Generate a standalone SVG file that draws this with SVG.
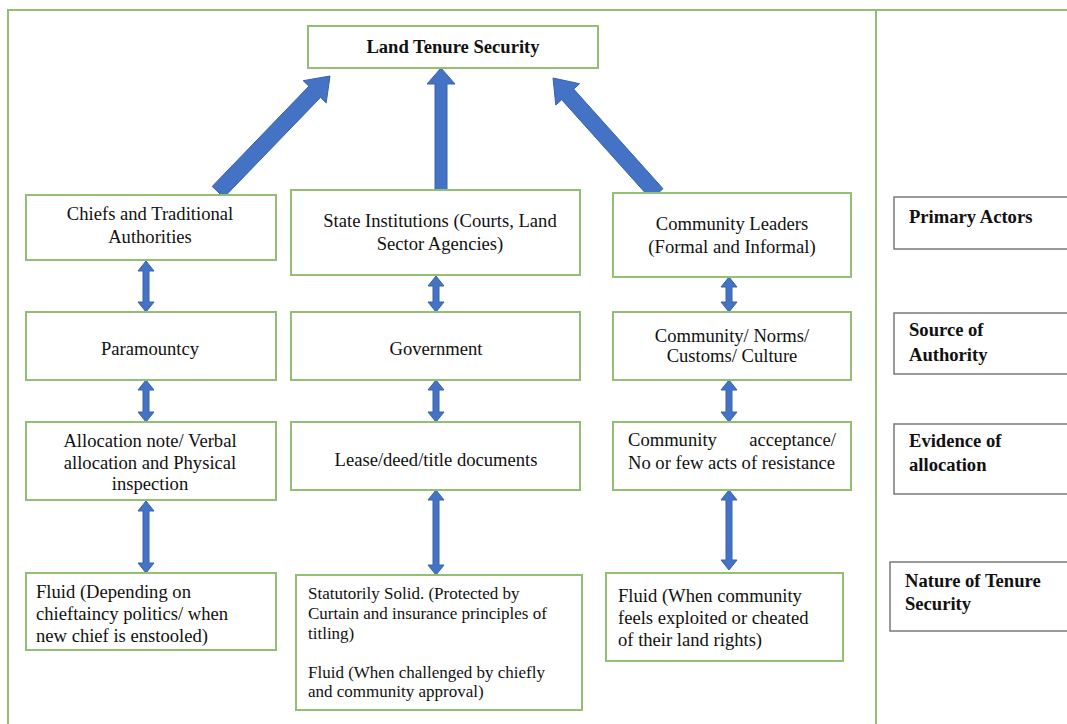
<svg xmlns="http://www.w3.org/2000/svg" width="1067" height="724" viewBox="0 0 1067 724">
<style>
.frame{fill:none;stroke:#93BF72;stroke-width:2}
.box{fill:#fff;stroke:#93BF72;stroke-width:2}
.leg{fill:#fff;stroke:#7a7a7a;stroke-width:1.5}
.arr{fill:#4472C4;stroke:#3A62A8;stroke-width:1}
text{font-family:"Liberation Serif","Times New Roman",serif;font-size:18.6px;fill:#111}
.c{text-anchor:middle}
.b{font-weight:bold}
.s{font-size:17px}
</style>
<rect width="1067" height="724" fill="#fff"/>
<g id="frame">
<path class="frame" d="M8,724 L8,10 L1067,10 M876,10 L876,724"/>
</g>
<g id="connectors">
<polygon class="arr" points="223.8,197.6 320.5,97.4 326.2,102.9 330,76 303.2,80.7 308.9,86.2 212.2,186.4"/>
<polygon class="arr" points="447,194 447,84 455,84 441,68 427,84 435,84 435,194"/>
<polygon class="arr" points="663,188.7 573.7,89.1 579.6,83.7 553,78 555.8,105.1 561.7,99.7 651,199.3"/>
<path class="arr" d="M146,261 L154,271 L149,271 L149,302 L154,302 L146,312 L138,302 L143,302 L143,271 L138,271 Z"/>
<path class="arr" d="M146,380 L154,390 L149,390 L149,412 L154,412 L146,422 L138,412 L143,412 L143,390 L138,390 Z"/>
<path class="arr" d="M146,501 L154,511 L149,511 L149,563 L154,563 L146,573 L138,563 L143,563 L143,511 L138,511 Z"/>
<path class="arr" d="M436,276 L444,286 L439,286 L439,302 L444,302 L436,312 L428,302 L433,302 L433,286 L428,286 Z"/>
<path class="arr" d="M436,380 L444,390 L439,390 L439,412 L444,412 L436,422 L428,412 L433,412 L433,390 L428,390 Z"/>
<path class="arr" d="M436,490 L444,500 L439,500 L439,565 L444,565 L436,575 L428,565 L433,565 L433,500 L428,500 Z"/>
<path class="arr" d="M729,277 L737,287 L732,287 L732,302 L737,302 L729,312 L721,302 L726,302 L726,287 L721,287 Z"/>
<path class="arr" d="M729,380 L737,390 L732,390 L732,412 L737,412 L729,422 L721,412 L726,412 L726,390 L721,390 Z"/>
<path class="arr" d="M729,490 L737,500 L732,500 L732,560 L737,560 L729,570 L721,560 L726,560 L726,500 L721,500 Z"/>
</g>
<g id="n-lts">
<rect class="box" x="308" y="26" width="290" height="42"/>
<text class="c b" x="453" y="53">Land Tenure Security</text>
</g>
<g id="n-chiefs">
<rect class="box" x="26" y="195" width="250" height="65"/>
<text class="c" x="150" y="220">Chiefs and Traditional</text>
<text class="c" x="150" y="243">Authorities</text>
</g>
<g id="n-state">
<rect class="box" x="291" y="190" width="289" height="85"/>
<text class="c" x="440" y="227">State Institutions (Courts, Land</text>
<text class="c" x="440" y="250">Sector Agencies)</text>
</g>
<g id="n-community">
<rect class="box" x="613" y="193" width="238" height="84"/>
<text class="c" x="732" y="230">Community Leaders</text>
<text class="c" x="732" y="253">(Formal and Informal)</text>
</g>
<g id="n-paramountcy">
<rect class="box" x="26" y="312" width="250" height="68"/>
<text class="c" x="150" y="355">Paramountcy</text>
</g>
<g id="n-government">
<rect class="box" x="291" y="312" width="289" height="68"/>
<text class="c" x="436" y="355">Government</text>
</g>
<g id="n-norms">
<rect class="box" x="613" y="312" width="238" height="68"/>
<text class="c" x="732" y="342">Community/ Norms/</text>
<text class="c" x="732" y="362">Customs/ Culture</text>
</g>
<g id="n-allocation">
<rect class="box" x="26" y="422" width="250" height="78"/>
<text class="c" x="150" y="447">Allocation note/ Verbal</text>
<text class="c" x="150" y="469">allocation and Physical</text>
<text class="c" x="150" y="490">inspection</text>
</g>
<g id="n-lease">
<rect class="box" x="291" y="422" width="289" height="68"/>
<text class="c" x="436" y="466">Lease/deed/title documents</text>
</g>
<g id="n-acceptance">
<rect class="box" x="613" y="422" width="238" height="68"/>
<text x="628" y="446">Community</text>
<text x="836" y="446" text-anchor="end">acceptance/</text>
<text x="628" y="469">No or few acts of resistance</text>
</g>
<g id="n-fluid-chiefs">
<rect class="box" x="26" y="573" width="250" height="77"/>
<text x="36" y="598">Fluid (Depending on</text>
<text x="36" y="620">chieftaincy politics/ when</text>
<text x="36" y="642">new chief is enstooled)</text>
</g>
<g id="n-statutory">
<rect class="box" x="296" y="575" width="286" height="135"/>
<text class="s" x="308" y="599">Statutorily Solid. (Protected by</text>
<text class="s" x="308" y="619">Curtain and insurance principles of</text>
<text class="s" x="308" y="639">titling)</text>
<text class="s" x="308" y="678">Fluid (When challenged by chiefly</text>
<text class="s" x="308" y="697">and community approval)</text>
</g>
<g id="n-fluid-community">
<rect class="box" x="606" y="573" width="237" height="88"/>
<text x="618" y="602">Fluid (When community</text>
<text x="618" y="624">feels exploited or cheated</text>
<text x="618" y="646">of their land rights)</text>
</g>
<g id="l-actors">
<rect class="leg" x="894" y="197" width="180" height="52"/>
<text class="b" x="909" y="223">Primary Actors</text>
</g>
<g id="l-source">
<rect class="leg" x="894" y="313" width="180" height="61"/>
<text class="b" x="909" y="336">Source of</text>
<text class="b" x="909" y="361">Authority</text>
</g>
<g id="l-evidence">
<rect class="leg" x="894" y="424" width="180" height="70"/>
<text class="b" x="909" y="447">Evidence of</text>
<text class="b" x="909" y="471">allocation</text>
</g>
<g id="l-nature">
<rect class="leg" x="890" y="562" width="184" height="69"/>
<text class="b" x="905" y="587">Nature of Tenure</text>
<text class="b" x="905" y="610">Security</text>
</g>
</svg>
